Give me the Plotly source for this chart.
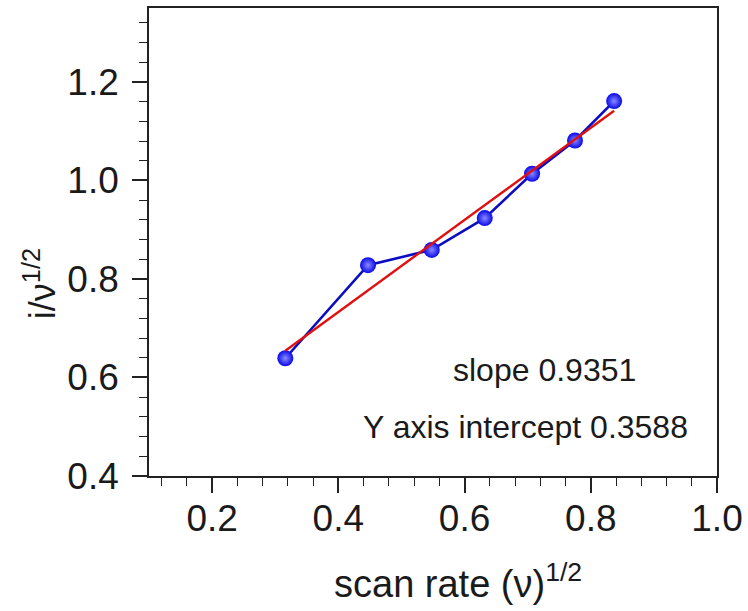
import plotly.graph_objects as go

# data
scan_rate_sqrt = [0.316, 0.447, 0.548, 0.632, 0.707, 0.775, 0.837]
i_over_sqrt_v = [0.639, 0.828, 0.859, 0.9235, 1.0136, 1.081, 1.161]
fit_slope = 0.9351
fit_intercept = 0.3588
fit_x = [scan_rate_sqrt[0], scan_rate_sqrt[-1]]
fit_y = [fit_intercept + fit_slope * v for v in fit_x]

FONT = "Arial, Liberation Sans, sans-serif"
TXT = "#1a1a1a"
AX = "#222222"

fig = go.Figure()
fig.add_trace(go.Scatter(
    x=scan_rate_sqrt, y=i_over_sqrt_v, mode="lines+markers",
    line=dict(color="#0c0cc0", width=2.6),
    marker=dict(symbol="circle", size=16, color="#0808e8",
                line=dict(width=0),
                gradient=dict(type="radial", color="#8a8aff")),
    showlegend=False,
))
fig.add_trace(go.Scatter(
    x=fit_x, y=fit_y, mode="lines",
    line=dict(color="#e01010", width=2.4),
    showlegend=False,
))

axis_common = dict(
    showgrid=False, zeroline=False, showline=True, linecolor=AX, linewidth=1.6,
    mirror=True, ticks="outside", ticklen=15, tickwidth=1.6, tickcolor=AX,
    tickfont=dict(family=FONT, size=37, color=TXT),
    ticklabeloverflow="allow",
)

fig.update_xaxes(
    range=[0.1, 1.0], dtick=0.2, tick0=0, tickformat=".1f",
    ticklabelstandoff=-6,
    minor=dict(dtick=0.04, tick0=0, ticks="outside", ticklen=8,
               tickwidth=1.4, tickcolor=AX),
    **axis_common,
)
fig.update_yaxes(
    range=[0.4, 1.35], dtick=0.2, tick0=0, tickformat=".1f",
    ticklabelstandoff=6,
    minor=dict(dtick=0.04, tick0=0, ticks="outside", ticklen=8,
               tickwidth=1.4, tickcolor=AX),
    **axis_common,
)

fig.add_annotation(text="slope 0.9351", xref="paper", yref="paper",
                   x=0.697, y=0.2265, xanchor="center", yanchor="middle",
                   showarrow=False, font=dict(family=FONT, size=32, color=TXT))
fig.add_annotation(text="Y axis intercept 0.3588", xref="paper", yref="paper",
                   x=0.662, y=0.105, xanchor="center", yanchor="middle",
                   showarrow=False, font=dict(family=FONT, size=32, color=TXT))
fig.add_annotation(text="scan rate (ν)<sup>1/2</sup>", xref="paper", yref="paper",
                   x=0.3217, y=-0.225, xanchor="left", yanchor="middle",
                   showarrow=False, font=dict(family=FONT, size=38, color=TXT))
fig.add_annotation(text="i/ν<sup>1/2</sup>", xref="paper", yref="paper",
                   x=-0.192, y=0.412, xanchor="center", yanchor="middle",
                   textangle=-90,
                   showarrow=False, font=dict(family=FONT, size=36, color=TXT))

fig.update_layout(
    width=748, height=611,
    margin=dict(l=149, r=31, t=8, b=135, autoexpand=False),
    paper_bgcolor="white", plot_bgcolor="white",
)

fig.write_html(
    "out.html",
    config={"displayModeBar": False},
    post_script="document.body.style.margin='0';document.body.style.overflow='hidden';",
)
